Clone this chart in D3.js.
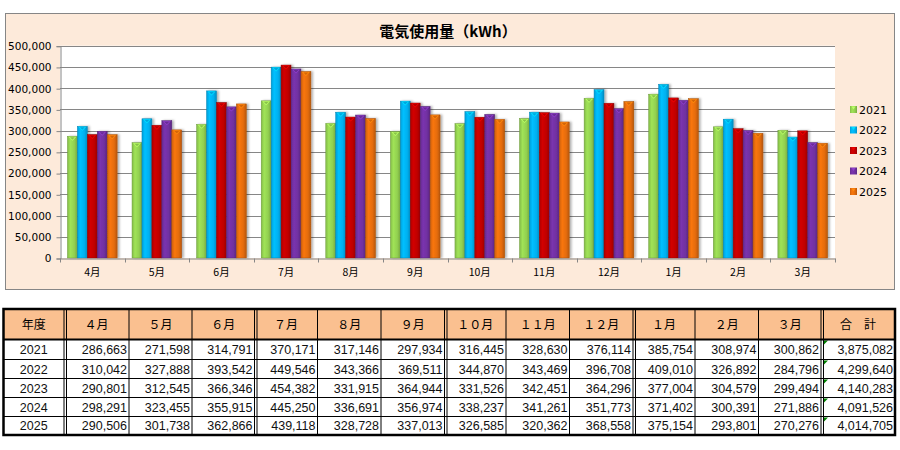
<!DOCTYPE html>
<html>
<head>
<meta charset="utf-8">
<script src="https://cdn.jsdelivr.net/npm/d3@7"></script>
<style>
  body { margin: 0; background: #fff; }
  svg text { font-family: "Noto Sans CJK JP", "DejaVu Sans", sans-serif; }
</style>
</head>
<body>
<div class="container"></div>
<script>
const MONTHS = ['4月', '5月', '6月', '7月', '8月', '9月', '10月', '11月', '12月', '1月', '2月', '3月'];
const HEAD_MONTHS = ['４月', '５月', '６月', '７月', '８月', '９月', '１０月', '１１月', '１２月', '１月', '２月', '３月'];
const YEARS = ['2021', '2022', '2023', '2024', '2025'];

const USE_2021 = [286663, 271598, 314791, 370171, 317146, 297934, 316445, 328630, 376114, 385754, 308974, 300862];
const USE_2022 = [310042, 327888, 393542, 449546, 343366, 369511, 344870, 343469, 396708, 409010, 326892, 284796];
const USE_2023 = [290801, 312545, 366346, 454382, 331915, 364944, 331526, 342451, 364296, 377004, 304579, 299494];
const USE_2024 = [298291, 323455, 355915, 445250, 336691, 356974, 338237, 341261, 351773, 371402, 300391, 271886];
const USE_2025 = [290506, 301738, 362866, 439118, 328728, 337013, 326585, 320362, 368558, 375154, 293801, 270276];
const TOTALS = [3875082, 4299640, 4140283, 4091526, 4014705];

const Y_TICKS = [0, 50000, 100000, 150000, 200000, 250000, 300000, 350000, 400000, 450000, 500000];

const SERIES = [USE_2021, USE_2022, USE_2023, USE_2024, USE_2025];
const COLORS = ['#92D050', '#00B0F0', '#C00000', '#7030A0', '#E46C0A'];

const WIDTH = 900;
const HEIGHT = 450;

// chart area
const FRAME = {x: 5, y: 13, w: 889, h: 276};
const PLOT = {left: 60, right: 835, top: 45.7, bottom: 258};

let svg = d3.select('.container').append('svg')
    .attr('width', WIDTH)
    .attr('height', HEIGHT);

let defs = svg.append('defs');

COLORS.forEach((c, i) => {
    let grad = defs.append('linearGradient')
        .attr('id', `grad${i}`)
        .attr('x1', '0%').attr('x2', '100%').attr('y1', '0%').attr('y2', '0%');
    grad.append('stop').attr('offset', '0%').attr('stop-color', d3.color(c).darker(0.3));
    grad.append('stop').attr('offset', '30%').attr('stop-color', d3.color(c).brighter(0.25));
    grad.append('stop').attr('offset', '70%').attr('stop-color', c);
    grad.append('stop').attr('offset', '100%').attr('stop-color', d3.color(c).darker(0.6));
});

let shadow = defs.append('filter').attr('id', 'shadow')
    .attr('x', '-20%').attr('y', '-5%').attr('width', '160%').attr('height', '110%');
shadow.append('feDropShadow')
    .attr('dx', 2).attr('dy', 0).attr('stdDeviation', 1)
    .attr('flood-color', '#000').attr('flood-opacity', 0.3);

svg.append('rect')
    .attr('x', FRAME.x + 0.5).attr('y', FRAME.y + 0.5)
    .attr('width', FRAME.w).attr('height', FRAME.h)
    .attr('fill', '#FDEADA')
    .attr('stroke', '#868686');

svg.append('rect')
    .attr('x', PLOT.left).attr('y', PLOT.top)
    .attr('width', PLOT.right - PLOT.left).attr('height', PLOT.bottom - PLOT.top)
    .attr('fill', '#fff');

svg.append('text')
    .attr('x', 448).attr('y', 37)
    .attr('text-anchor', 'middle')
    .attr('font-size', 15)
    .attr('font-weight', 'bold')
    .attr('fill', '#000')
    .text('電気使用量（kWh）');

let xScale = d3.scaleBand()
    .domain(MONTHS)
    .range([PLOT.left, PLOT.right]);

let xInner = d3.scaleBand()
    .domain(YEARS)
    .range([0, xScale.bandwidth()])
    .paddingOuter(0.75);

let yScale = d3.scaleLinear()
    .domain([0, 500000])
    .range([PLOT.bottom, PLOT.top]);

// gridlines
svg.append('g')
    .selectAll('line')
    .data(Y_TICKS.filter(t => t > 0))
    .enter().append('line')
    .attr('x1', PLOT.left).attr('x2', PLOT.right)
    .attr('y1', t => Math.round(yScale(t)) + 0.5)
    .attr('y2', t => Math.round(yScale(t)) + 0.5)
    .attr('stroke', '#868686');

// y axis
let yAxis = d3.axisLeft(yScale)
    .tickValues(Y_TICKS)
    .tickSize(4)
    .tickPadding(5)
    .tickFormat(d3.format(','));

svg.append('g')
    .attr('transform', `translate(${PLOT.left + 0.5}, 0.5)`)
    .call(yAxis)
    .call(g => g.select('.domain').attr('stroke', '#868686'))
    .call(g => g.selectAll('.tick line').attr('stroke', '#868686'))
    .call(g => g.selectAll('.tick text')
        .attr('font-size', 10.5)
        .attr('fill', '#000')
        .style('font-family', '"DejaVu Sans", sans-serif'));

// bars
let groups = svg.append('g')
    .selectAll('g')
    .data(MONTHS)
    .enter().append('g')
    .attr('transform', m => `translate(${xScale(m)}, 0)`);

let bars = groups.selectAll('g.bar')
    .data((m, mi) => YEARS.map((y, yi) => ({year: y, yi: yi, value: SERIES[yi][mi]})))
    .enter().append('g')
    .classed('bar', true);

bars.append('rect')
    .attr('x', d => xInner(d.year))
    .attr('y', d => yScale(d.value))
    .attr('width', xInner.bandwidth())
    .attr('height', d => PLOT.bottom - yScale(d.value))
    .attr('fill', d => `url(#grad${d.yi})`)
    .attr('stroke', d => d3.color(COLORS[d.yi]).darker(0.8))
    .attr('stroke-width', 0.5)
    .attr('filter', 'url(#shadow)');

// top bevel
bars.append('path')
    .attr('d', d => {
        let x0 = xInner(d.year);
        let w = xInner.bandwidth();
        let y0 = yScale(d.value);
        return `M${x0 + 1},${y0 + 0.5} L${x0 + w - 1},${y0 + 0.5} L${x0 + w / 2},${y0 + 4.5} Z`;
    })
    .attr('fill', d => d3.color(COLORS[d.yi]).brighter(0.7));

bars.append('path')
    .attr('d', d => {
        let x0 = xInner(d.year);
        let w = xInner.bandwidth();
        let y0 = yScale(d.value);
        return `M${x0 + 2.5},${y0 + 1} L${x0 + w - 2.5},${y0 + 1} L${x0 + w / 2},${y0 + 3.5} Z`;
    })
    .attr('fill', d => d3.color(COLORS[d.yi]).darker(0.2));

// x axis
let xAxis = d3.axisBottom(xScale)
    .tickSize(0)
    .tickPadding(10);

let xg = svg.append('g')
    .attr('transform', `translate(0, ${PLOT.bottom + 0.5})`)
    .call(xAxis);
xg.select('.domain').attr('stroke', '#868686');
xg.selectAll('.tick text')
    .attr('font-size', 10.5)
    .attr('fill', '#000');

xg.selectAll('.sep')
    .data(MONTHS.concat(['end']))
    .enter().append('line')
    .attr('x1', (m, i) => Math.round(i < MONTHS.length ? xScale(m) : PLOT.right) + 0.5)
    .attr('x2', (m, i) => Math.round(i < MONTHS.length ? xScale(m) : PLOT.right) + 0.5)
    .attr('y1', 0).attr('y2', 4)
    .attr('stroke', '#868686');

// legend
let legend = svg.append('g')
    .selectAll('g')
    .data(YEARS)
    .enter().append('g')
    .attr('transform', (y, i) => `translate(850, ${109.5 + i * 20.5})`);

legend.append('rect')
    .attr('x', 0).attr('y', -3.5)
    .attr('width', 7).attr('height', 7)
    .attr('fill', (y, i) => `url(#grad${i})`);

legend.append('path')
    .attr('d', 'M1.5,-3 L5.5,-3 L3.5,0 Z')
    .attr('fill', (y, i) => d3.color(COLORS[i]).brighter(0.7));

legend.append('text')
    .attr('x', 9).attr('y', 4)
    .attr('font-size', 11)
    .attr('fill', '#000')
    .style('font-family', '"DejaVu Sans", sans-serif')
    .text(y => y);

//--table--
const COL_EDGES = [3.5, 64, 129, 192, 254.5, 317.5, 381, 444.5, 506, 569.5, 633, 695, 758.5, 821, 895];
const DOUBLE_AFTER = [1, 4, 7, 10, 13];
const ROW_EDGES = [309, 339.5, 359.5, 378.5, 397.5, 416.5, 435];

let table = svg.append('g');

table.append('rect')
    .attr('x', COL_EDGES[0]).attr('y', ROW_EDGES[0])
    .attr('width', COL_EDGES[COL_EDGES.length - 1] - COL_EDGES[0])
    .attr('height', ROW_EDGES[1] - ROW_EDGES[0])
    .attr('fill', '#FAC090');

let headers = ['年度'].concat(HEAD_MONTHS, ['合　計']);

table.selectAll('.head')
    .data(headers)
    .enter().append('text')
    .attr('x', (h, i) => (COL_EDGES[i] + COL_EDGES[i + 1]) / 2)
    .attr('y', (ROW_EDGES[0] + ROW_EDGES[1]) / 2 + 4.5)
    .attr('text-anchor', 'middle')
    .attr('font-size', 12)
    .attr('fill', '#000')
    .text(h => h);

let fmt = d3.format(',');

YEARS.forEach((y, r) => {
    let cells = [y].concat(SERIES[r], [TOTALS[r]]);
    let ty = (ROW_EDGES[r + 1] + ROW_EDGES[r + 2]) / 2 + 4.5;
    table.append('g')
        .selectAll('text')
        .data(cells)
        .enter().append('text')
        .attr('x', (c, i) => i === 0 ? (COL_EDGES[0] + COL_EDGES[1]) / 2 : COL_EDGES[i + 1] - 2)
        .attr('y', ty)
        .attr('text-anchor', (c, i) => i === 0 ? 'middle' : 'end')
        .attr('font-size', 12.5)
        .attr('fill', '#111')
        .style('font-family', '"Liberation Sans", Arial, sans-serif')
        .text((c, i) => i === 0 ? c : fmt(c));

    // green error marks on total cells
    let cx = COL_EDGES[13] + 3;
    let cy = ROW_EDGES[r + 1] + 1;
    table.append('path')
        .attr('d', `M${cx},${cy} L${cx + 4},${cy} L${cx},${cy + 4} Z`)
        .attr('fill', '#008000');
});

// row lines
table.selectAll('.rowline')
    .data(ROW_EDGES.slice(1, -1))
    .enter().append('line')
    .attr('x1', COL_EDGES[0]).attr('x2', COL_EDGES[COL_EDGES.length - 1])
    .attr('y1', d => d).attr('y2', d => d)
    .attr('stroke', '#000')
    .attr('stroke-width', (d, i) => i === 0 ? 2 : 1);

// column lines
table.selectAll('.colline')
    .data(COL_EDGES.slice(1, -1))
    .enter().append('line')
    .attr('x1', d => d).attr('x2', d => d)
    .attr('y1', ROW_EDGES[0]).attr('y2', ROW_EDGES[ROW_EDGES.length - 1])
    .attr('stroke', '#000')
    .attr('stroke-width', 1);

table.selectAll('.dblline')
    .data(DOUBLE_AFTER.map(i => COL_EDGES[i] + 2.5))
    .enter().append('line')
    .attr('x1', d => d).attr('x2', d => d)
    .attr('y1', ROW_EDGES[0]).attr('y2', ROW_EDGES[ROW_EDGES.length - 1])
    .attr('stroke', '#000')
    .attr('stroke-width', 1);

table.append('rect')
    .attr('x', COL_EDGES[0]).attr('y', ROW_EDGES[0])
    .attr('width', COL_EDGES[COL_EDGES.length - 1] - COL_EDGES[0])
    .attr('height', ROW_EDGES[ROW_EDGES.length - 1] - ROW_EDGES[0])
    .attr('fill', 'none')
    .attr('stroke', '#000')
    .attr('stroke-width', 2.5);
</script>
</body>
</html>
